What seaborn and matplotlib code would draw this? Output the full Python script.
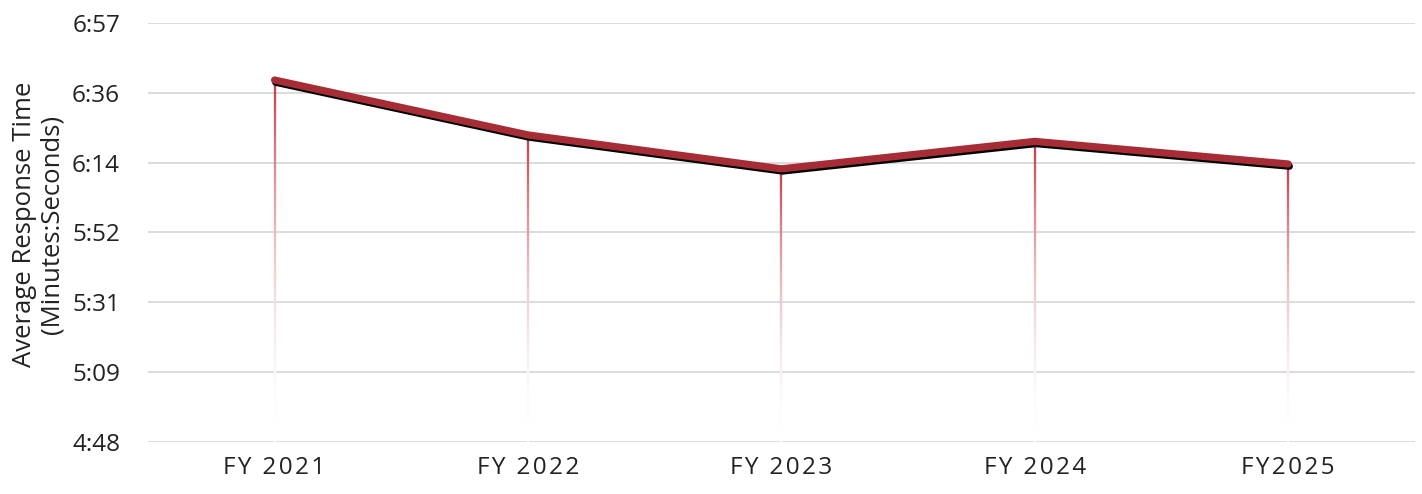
import numpy as np
import pandas as pd
import matplotlib
matplotlib.use("Agg")
import matplotlib.pyplot as plt
import matplotlib.patheffects as pe
from matplotlib.collections import LineCollection
from matplotlib.colors import to_rgb
import seaborn as sns

# ---- data ----
categories = ["FY 2021", "FY 2022", "FY 2023", "FY 2024", "FY2025"]
response_seconds = [400, 383, 372.5, 381, 374]          # average response time, seconds
y_ticks = [288, 309.6, 331.2, 352.8, 374.4, 396.0, 417.6]
y_tick_labels = ["4:48", "5:09", "5:31", "5:52", "6:14", "6:36", "6:57"]
y_label = "Average Response Time\n(Minutes:Seconds)"

line_color = "#a62c35"
drop_color = "#b83f4a"

sns.set_theme(style="white")
plt.rcParams["font.family"] = ["Open Sans", "DejaVu Sans"]

fig = plt.figure(figsize=(14.22, 4.94), dpi=100)
ax = fig.add_axes([0.104, 0.106, 0.891, 0.847])

df = pd.DataFrame({"pos": np.arange(len(categories)), "value": response_seconds})

# gridlines
for yt in y_ticks:
    ax.axhline(yt, color="#d9d9d9", lw=1.3, zorder=0)

# gradient drop lines (colour fades towards white)
base = y_ticks[0]
rgb = np.array(to_rgb(drop_color))
white = np.ones(3)
n = 200
for x, v in zip(df["pos"], df["value"]):
    ys = np.linspace(base, v, n + 1)
    segs = [[(x, ys[i]), (x, ys[i + 1])] for i in range(n)]
    t = (np.arange(n) + 0.5) / n
    w = t ** 1.9
    cols = [tuple(white * (1 - a) + rgb * a) for a in w]
    lc = LineCollection(segs, colors=cols, linewidths=1.7, zorder=1, capstyle="butt")
    ax.add_collection(lc)

sns.lineplot(data=df, x="pos", y="value", ax=ax, color=line_color, lw=5.2,
             solid_capstyle="round", solid_joinstyle="round", zorder=3,
             path_effects=[pe.SimpleLineShadow(offset=(0.8, -1.6), shadow_color="black", alpha=1.0),
                           pe.Normal()])

ax.set_xlim(-0.5, 4.5)
ax.set_ylim(y_ticks[0], y_ticks[-1])
ax.set_yticks(y_ticks)
ax.set_yticklabels(y_tick_labels)


def spaced(s):
    return "\u200a".join(list(s))


ax.set_xticks(df["pos"])
ax.set_xticklabels([spaced(c) for c in categories])
ax.tick_params(axis="y", length=0, pad=20, labelsize=17.5, colors="#222222")
ax.tick_params(axis="x", length=0, pad=10, labelsize=17.5, colors="#222222")
ax.set_xlabel("")
ax.set_ylabel(y_label, fontsize=18.5, color="#222222", linespacing=1.1)
ax.yaxis.set_label_coords(-0.066, 0.52)
for s in ax.spines.values():
    s.set_visible(False)
ax.grid(False)

fig.savefig("out.png", dpi=100, facecolor="white")
